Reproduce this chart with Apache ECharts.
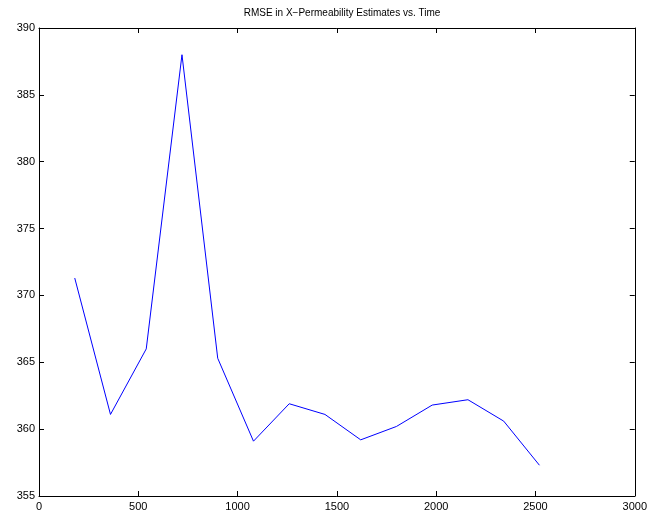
<!DOCTYPE html>
<html>
<head>
<meta charset="utf-8">
<script src="https://cdn.jsdelivr.net/npm/echarts@6/dist/echarts.min.js"></script>
<style>
  html, body { margin: 0; padding: 0; background: #fff; }
  #chart { width: 650px; height: 521px; }
</style>
</head>
<body>
<div id="chart"></div>
<script>
// Time (x) and RMSE of the X-permeability estimates (y)
const times = [180, 360, 540, 720, 900, 1080, 1260, 1440, 1620, 1800, 1980, 2160, 2340, 2520];
const rmse = [371.3, 361.1, 366.0, 388.0, 365.3, 359.1, 361.9, 361.1, 359.2, 360.2, 361.8, 362.2, 360.6, 357.3];
const xTicks = [0, 500, 1000, 1500, 2000, 2500, 3000];
const yTicks = [355, 360, 365, 370, 375, 380, 385, 390];

const font = 'Liberation Sans, Arial, Helvetica, sans-serif';
const axisLine = { show: true, onZero: false, lineStyle: { color: '#000', width: 1 } };
const tick = { show: true, inside: true, length: 5, lineStyle: { color: '#000' } };

const chart = echarts.init(document.getElementById('chart'), null, { renderer: 'canvas' });
chart.setOption({
  animation: false,
  backgroundColor: '#fff',
  title: {
    text: 'RMSE in X\u2212Permeability Estimates vs. Time',
    left: 337, top: 3, textAlign: 'center',
    textStyle: { fontFamily: font, fontSize: 10, fontWeight: 'normal', color: '#000' }
  },
  grid: { left: 39, right: 15, top: 28, bottom: 25 },
  xAxis: [
    {
      type: 'value', min: xTicks[0], max: xTicks[xTicks.length - 1], interval: 500,
      position: 'bottom', axisLine, axisTick: tick, splitLine: { show: false },
      axisLabel: { fontFamily: font, fontSize: 11, color: '#000', margin: 5, formatter: v => String(v) }
    },
    {
      type: 'value', min: xTicks[0], max: xTicks[xTicks.length - 1], interval: 500,
      position: 'top', axisLine, axisTick: tick, splitLine: { show: false },
      axisLabel: { show: false }
    }
  ],
  yAxis: [
    {
      type: 'value', min: yTicks[0], max: yTicks[yTicks.length - 1], interval: 5,
      position: 'left', axisLine, axisTick: tick, splitLine: { show: false },
      axisLabel: { fontFamily: font, fontSize: 11, color: '#000', margin: 4, formatter: v => String(v) }
    },
    {
      type: 'value', min: yTicks[0], max: yTicks[yTicks.length - 1], interval: 5,
      position: 'right', axisLine, axisTick: tick, splitLine: { show: false },
      axisLabel: { show: false }
    }
  ],
  series: [{
    type: 'line',
    data: times.map((t, i) => [t, rmse[i]]),
    showSymbol: false,
    lineStyle: { color: '#0000ff', width: 1 },
    xAxisIndex: 0, yAxisIndex: 0
  }]
});
</script>
</body>
</html>
